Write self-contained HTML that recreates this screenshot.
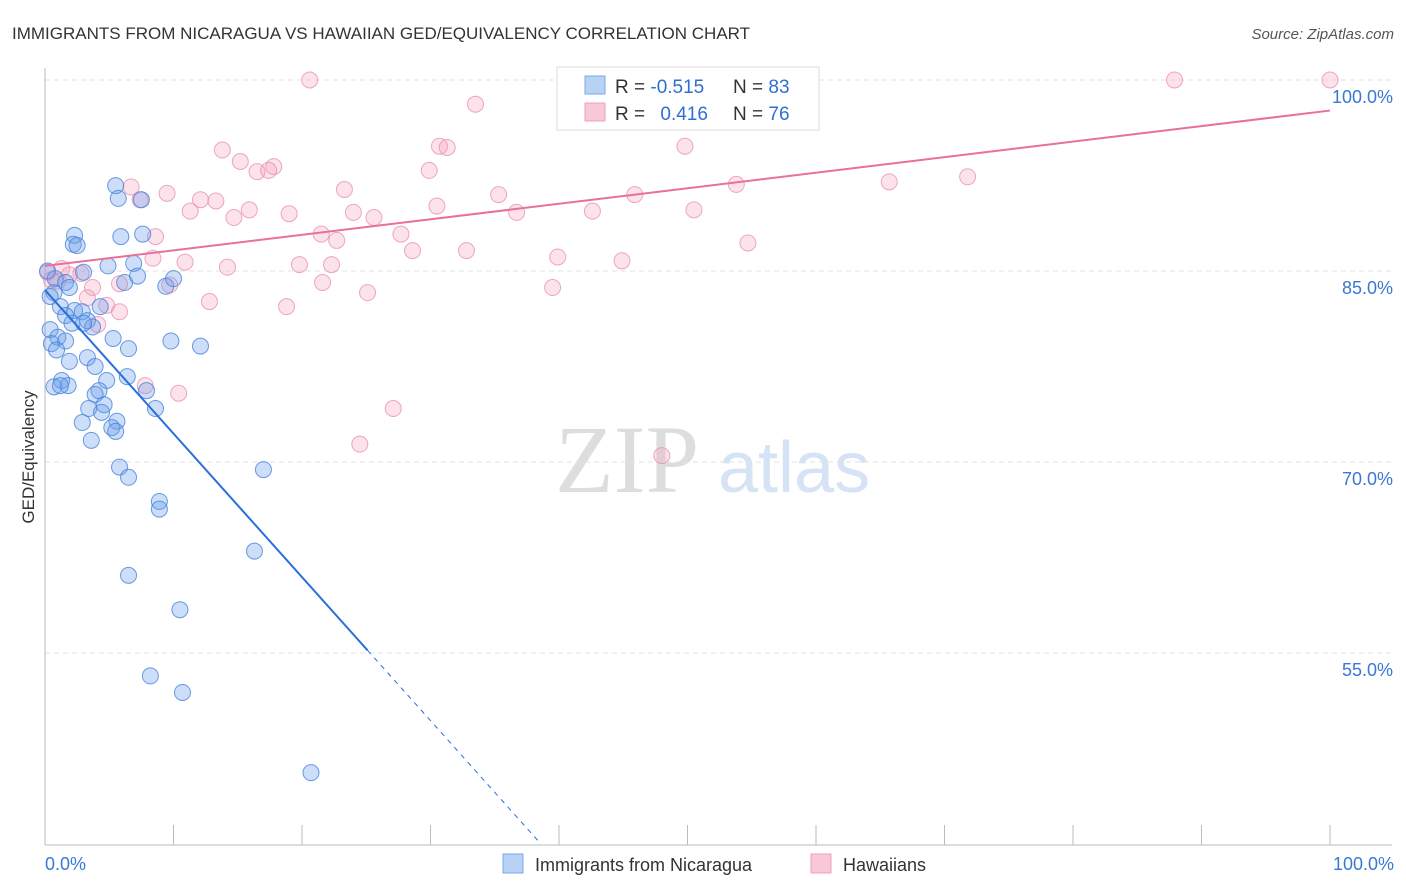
<!DOCTYPE html>
<html><head><meta charset="utf-8"><style>
body{margin:0;background:#fff;font-family:"Liberation Sans",sans-serif;}
svg{display:block}
</style></head><body>
<svg id="chart" width="1406" height="892">
<text x="12" y="39" font-size="17" fill="#333">IMMIGRANTS FROM NICARAGUA VS HAWAIIAN GED/EQUIVALENCY CORRELATION CHART</text>
<text x="1394" y="39" font-size="15" fill="#555" font-style="italic" text-anchor="end">Source: ZipAtlas.com</text>
<text x="555" y="492" font-size="96" fill="#ddd" font-family="Liberation Serif,serif">ZIP</text>
<text x="718" y="492" font-size="72" fill="#d6e2f5">atlas</text>
<text transform="translate(34,457) rotate(-90)" font-size="17" fill="#333" text-anchor="middle">GED/Equivalency</text>
<g id="grid"></g><g id="pts"></g><g id="lines"></g>
<g>
<rect x="557" y="67" width="262" height="63" fill="#fff" stroke="#ddd"/>
<rect x="585" y="76" width="20" height="18" fill="#b8d2f5" stroke="#7aa8e8"/>
<rect x="585" y="103" width="20" height="18" fill="#f8c8d6" stroke="#f0a0b8"/>
<text x="615" y="93" font-size="19" fill="#333">R = <tspan fill="#2f6fd0">-0.515</tspan></text>
<text x="733" y="93" font-size="19" fill="#333">N = <tspan fill="#2f6fd0">83</tspan></text>
<text x="615" y="120" font-size="19" fill="#333">R = <tspan fill="#2f6fd0" dx="10">0.416</tspan></text>
<text x="733" y="120" font-size="19" fill="#333">N = <tspan fill="#2f6fd0">76</tspan></text>
</g>
<g>
<rect x="503" y="854" width="20" height="19" fill="#b8d2f5" stroke="#7aa8e8"/>
<text x="535" y="871" font-size="18" fill="#333">Immigrants from Nicaragua</text>
<rect x="811" y="854" width="20" height="19" fill="#f8c8d6" stroke="#f0a0b8"/>
<text x="843" y="871" font-size="18" fill="#333">Hawaiians</text>
</g>
</svg>
<script>
const xTicks=[0,10,20,30,40,50,60,70,80,90,100];
const yTicks=[100,85,70,55];
const yTickLabels=["100.0%","85.0%","70.0%","55.0%"];
const blueX=[5.5,5.7,7.5,2.3,5.9,7.6,2.2,2.5,4.9,6.9,3.0,0.2,0.8,6.2,7.2,1.6,0.7,9.4,10.0,0.4,1.9,1.2,2.3,1.6,4.3,2.9,3.3,2.1,3.7,0.4,1.0,0.5,1.6,5.3,9.8,12.1,6.5,0.9,3.3,1.9,3.9,4.8,6.4,1.3,0.7,1.8,4.2,7.9,3.9,4.6,3.4,8.6,4.4,5.6,2.9,5.2,5.5,3.6,5.8,17.0,6.5,8.9,8.9,16.3,6.5,10.5,8.2,10.7,20.7,1.2,3.0];
const blueY=[91.7,90.7,90.6,87.8,87.7,87.9,87.1,87.0,85.4,85.6,84.9,85.0,84.4,84.1,84.6,84.1,83.3,83.8,84.4,83.0,83.7,82.2,81.9,81.5,82.2,81.8,81.1,80.9,80.6,80.4,79.8,79.3,79.5,79.7,79.5,79.1,78.9,78.8,78.2,77.9,77.5,76.4,76.7,76.4,75.9,76.0,75.6,75.6,75.3,74.5,74.2,74.2,73.9,73.2,73.1,72.7,72.4,71.7,69.6,69.4,68.8,66.9,66.3,63.0,61.1,58.4,53.2,51.9,45.6,76.0,80.9];
const pinkX=[20.6,87.9,100,33.5,44.5,13.8,30.7,31.3,49.8,15.2,17.8,16.5,17.4,29.9,6.7,9.5,23.3,35.3,45.9,53.8,65.7,71.8,7.4,12.1,13.3,11.3,15.9,19.0,24.0,30.5,36.7,42.6,50.5,14.7,25.6,21.5,22.7,27.7,8.6,8.4,28.6,32.8,54.7,39.9,44.9,19.8,22.3,10.9,14.2,1.3,2.8,0.2,1.0,3.7,21.6,25.1,39.5,5.8,9.7,3.3,12.8,18.8,4.8,5.8,4.1,7.8,10.4,27.1,24.5,48.0,0.5,1.9];
const pinkY=[100,100,100,98.1,96.9,94.5,94.8,94.7,94.8,93.6,93.2,92.8,92.9,92.9,91.6,91.1,91.4,91.0,91.0,91.8,92.0,92.4,90.6,90.6,90.5,89.7,89.8,89.5,89.6,90.1,89.6,89.7,89.8,89.2,89.2,87.9,87.4,87.9,87.7,86.0,86.6,86.6,87.2,86.1,85.8,85.5,85.5,85.7,85.3,85.2,84.8,84.9,84.2,83.7,84.1,83.3,83.7,84.0,83.9,82.9,82.6,82.2,82.3,81.8,80.8,76.0,75.4,74.2,71.4,70.5,84.3,84.7];
const blueTrend=[83.5,-1.127];
const pinkTrend=[85.4,0.122];
const NS="http://www.w3.org/2000/svg";
const X=v=>45+v*12.85, Y=v=>80+(100-v)*12.733;
function mk(t,a,p){const e=document.createElementNS(NS,t);for(const k in a)e.setAttribute(k,a[k]);p.appendChild(e);return e;}
const grid=document.getElementById('grid'),pts=document.getElementById('pts'),lines=document.getElementById('lines');
yTicks.forEach((t,i)=>{
 const l=mk('line',{x1:45,x2:1392,y1:Y(t),y2:Y(t),stroke:'#e2e2e2','stroke-dasharray':'5,4'},grid);
 
 
 const tx=mk('text',{x:1393,y:Y(t)+23,'font-size':18,fill:'#3a78d4','text-anchor':'end'},grid);tx.textContent=yTickLabels[i];
 
 
});
const ax=mk('line',{x1:45,x2:45,y1:68,y2:845,stroke:'#bbb'},grid);


const bx=mk('line',{x1:45,x2:1392,y1:845,y2:845,stroke:'#bbb'},grid);


xTicks.forEach(t=>{const l=mk('line',{x1:X(t),x2:X(t),y1:825,y2:845,stroke:'#bbb'},grid);
 
 });
[[0,'0.0%','start',45],[100,'100.0%','end',1394]].forEach(a=>{const t=mk('text',{x:a[3],y:870,'font-size':18,fill:'#3a78d4','text-anchor':a[2]},grid);t.textContent=a[1];
 
 });
pinkX.forEach((v,i)=>{const c=mk('circle',{cx:X(v),cy:Y(pinkY[i]),r:8,fill:'rgba(244,160,188,0.3)',stroke:'rgba(232,140,170,0.75)','stroke-width':1},pts);
 
 });
blueX.forEach((v,i)=>{const c=mk('circle',{cx:X(v),cy:Y(blueY[i]),r:8,fill:'rgba(110,160,235,0.35)',stroke:'rgba(70,130,220,0.8)','stroke-width':1},pts);
 
 });
const bY=x=>blueTrend[0]+blueTrend[1]*x, pY=x=>pinkTrend[0]+pinkTrend[1]*x;
const xEnd=(40-blueTrend[0])/blueTrend[1];
const b1=mk('line',{x1:X(0),y1:Y(bY(0)),x2:X(25.1),y2:Y(bY(25.1)),stroke:'#2a6fdb','stroke-width':2},lines);


const b2=mk('line',{x1:X(25.1),y1:Y(bY(25.1)),x2:X(xEnd),y2:Y(40),stroke:'#2a6fdb','stroke-width':1,'stroke-dasharray':'5,5'},lines);


const p1=mk('line',{x1:X(0),y1:Y(pY(0)),x2:X(100),y2:Y(pY(100)),stroke:'#e8709a','stroke-width':2},lines);


</script>
</body></html>
